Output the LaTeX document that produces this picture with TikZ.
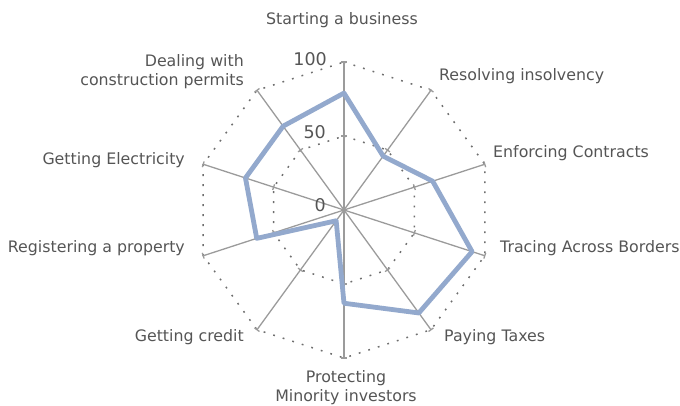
\documentclass[tikz,border=0pt]{standalone}
\usepackage{fontspec}
\setmainfont{DejaVu Sans}
\usepackage{tikz}
\definecolor{axisgray}{HTML}{9B9B9B}
\definecolor{ringgray}{HTML}{6E6E6E}
\definecolor{labelgray}{HTML}{555555}
\definecolor{scorecolor}{HTML}{93A9CD}
\tikzstyle{spoke} = [draw=axisgray, line width=1.3pt]
\tikzstyle{ring} = [draw=ringgray, line width=1.5pt, dash pattern=on 1.8pt off 8.2pt]
\tikzstyle{category} = [text=labelgray, inner sep=0pt, font=\fontsize{15.8}{19}\selectfont]
\tikzstyle{gauge} = [text=labelgray, inner sep=0pt, font=\fontsize{17.5}{22}\selectfont]
\tikzstyle{score} = [draw=scorecolor, line width=4.8pt, line join=round]

\begin{document}
\begin{tikzpicture}

        \useasboundingbox (-344pt,-195pt) rectangle (336pt,210pt) ;

        % grid: rings at 50 and 100
        \foreach \r in {74pt,148pt} {
            \draw [ring] (90:\r)
                \foreach \a in {54,18,...,-234} { -- (\a:\r) } -- cycle ;
        }

        % spokes with small ticks
        \foreach \a in {90,54,...,-234} {
            \draw [spoke] (0,0) -- (\a:148pt) ;
            \draw [spoke, rotate=\a] (74pt,-3pt) -- (74pt,3pt) ;
            \draw [spoke, rotate=\a] (148pt,-3pt) -- (148pt,3pt) ;
        }

        % scale
        \node (g100) [gauge, anchor=east] at (-17pt,151pt) {100} ;
        \node (g50)  [gauge, anchor=east] at (-18pt,78pt) {50} ;
        \node (g0)   [gauge, anchor=east] at (-18pt,5pt) {0} ;

        % scores
        \foreach \a/\v [count=\i] in
            {90/79, 54/45, 18/63, -18/91, -54/86,
             -90/63, -126/9, -162/62, -198/70, -234/70}
            \coordinate (s\i) at (\a:{\v*1.48pt}) ;
        \draw [score] (s1) -- (s2) -- (s3) -- (s4) -- (s5)
            -- (s6) -- (s7) -- (s8) -- (s9) -- (s10) -- cycle ;

        % categories
        \node (start) [category] at (-2pt,190pt) {Starting a business} ;
        \node (resolve) [category, anchor=west] at (95pt,134pt)
            {Resolving insolvency} ;
        \node (enforce) [category, anchor=west] at (149pt,57pt)
            {Enforcing Contracts} ;
        \node (trace) [category, anchor=west] at (156pt,-38pt)
            {Tracing Across Borders} ;
        \node (tax) [category, anchor=west] at (100pt,-127pt)
            {Paying Taxes} ;
        \node (minority) [category, align=center] at (2pt,-178pt)
            {Protecting\\Minority investors} ;
        \node (credit) [category, anchor=east] at (-100pt,-127pt)
            {Getting credit} ;
        \node (property) [category, anchor=east] at (-159pt,-38pt)
            {Registering a property} ;
        \node (power) [category, anchor=east] at (-159pt,50pt)
            {Getting Electricity} ;
        \node (permits) [category, anchor=east, align=right] at (-100pt,138pt)
            {Dealing with\\construction permits} ;

\end{tikzpicture}
\end{document}
